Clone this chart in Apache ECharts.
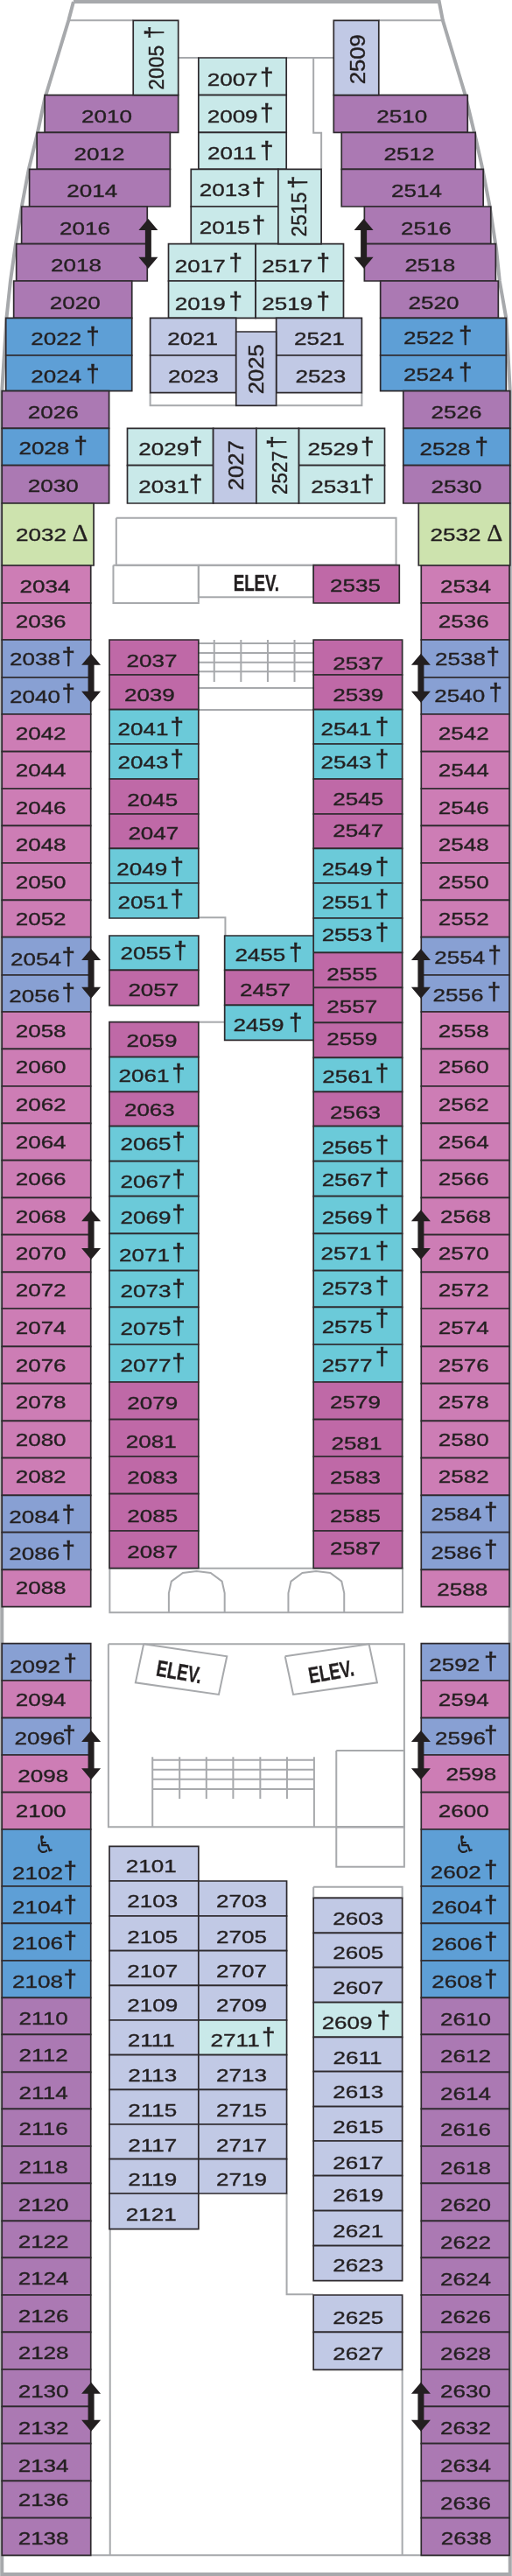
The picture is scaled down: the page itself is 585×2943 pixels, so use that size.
<!DOCTYPE html>
<html><head><meta charset="utf-8">
<style>html,body{margin:0;padding:0;background:#fff}#c{width:585px;height:2943px}</style>
<script src="https://cdn.jsdelivr.net/npm/echarts@6/dist/echarts.min.js"></script>
</head><body><div id="c"></div>
<script>
// ---------- cabin numbers ('†' / 'Δ' suffix = marked cabin) ----------
const portBow = ['2010','2012','2014','2016','2018','2020','2022†','2024†','2026','2028†','2030','2032Δ'];
const starBow = ['2510','2512','2514','2516','2518','2520','2522†','2524†','2526','2528†','2530','2532Δ'];
const portMid = ['2034','2036','2038†','2040†','2042','2044','2046','2048','2050','2052','2054†','2056†','2058','2060','2062','2064','2066','2068','2070','2072','2074','2076','2078','2080','2082','2084†','2086†','2088'];
const starMid = ['2534','2536','2538†','2540†','2542','2544','2546','2548','2550','2552','2554†','2556†','2558','2560','2562','2564','2566','2568','2570','2572','2574','2576','2578','2580','2582','2584†','2586†','2588'];
const portAft = ['2092†','2094','2096†','2098','2100','2102†','2104†','2106†','2108†','2110','2112','2114','2116','2118','2120','2122','2124','2126','2128','2130','2132','2134','2136','2138'];
const starAft = ['2592†','2594','2596†','2598','2600','2602†','2604†','2606†','2608†','2610','2612','2614','2616','2618','2620','2622','2624','2626','2628','2630','2632','2634','2636','2638'];
const innerA = ['2037','2039','2041†','2043†','2045','2047','2049†','2051†'];
const innerB = ['2055†','2057'];
const innerC = ['2059','2061†','2063','2065†','2067†','2069†','2071†','2073†','2075†','2077†','2079','2081','2083','2085','2087'];
const innerR = ['2537','2539','2541†','2543†','2545','2547','2549†','2551†','2553†','2555','2557','2559','2561†','2563','2565†','2567†','2569†','2571†','2573†','2575†','2577†','2579','2581','2583','2585','2587'];
const midHouse = ['2455†','2457','2459†'];
const foreA = ['2007†','2009†','2011†'];
const foreB = ['2013†','2015†'];
const foreC = ['2017†','2019†'];
const foreD = ['2517†','2519†'];
const foreE = ['2021','2023'];
const foreF = ['2521','2523'];
const foreG = ['2029†','2031†'];
const foreH = ['2529†','2531†'];
const aftA = ['2101','2103','2105','2107','2109','2111','2113','2115','2117','2119','2121'];
const aftB = ['2703','2705','2707','2709','2711†','2713','2715','2717','2719'];
const aftC = ['2603','2605','2607','2609†','2611','2613','2615','2617','2619','2621','2623'];
const aftD = ['2625','2627'];
const single = ['2535'];
const uprightCabins = ['2005†','2509','2515†','2025','2027','2527†'];
const elevatorLabels = ['ELEV.','ELEV.','ELEV.'];
const accessibleMark = '♿';

// ---------- fare class per cabin ----------
const portBowClass = 'PPPPPPBBPBPG', starBowClass = 'PPPPPPBBPBPG';
const portMidClass = 'KKSSKKKKKKSSKKKKKKKKKKKKKSSK', starMidClass = 'KKSSKKKKKKSSKKKKKKKKKKKKKSSK';
const portAftClass = 'SKSKKBBBBPPPPPPPPPPPPPPP', starAftClass = 'SKSKKBBBBPPPPPPPPPPPPPPP';
const innerAClass = 'MMTTMMTT', innerBClass = 'TM', innerCClass = 'MTMTTTTTTTMMMMM';
const innerRClass = 'MMTTMMTTTMMMTMTTTTTTTMMMMM';
const midHouseClass = 'TMT';
const aftBClass = 'VVVVLVVVV', aftCClass = 'VVVLVVVVVVV';
const uprightClass = 'LVLVVL';

const classColor = {P:'#ab79b3',B:'#5e9fd6',L:'#c9e9e9',V:'#c1c9e5',K:'#cd7db5',M:'#bf69a7',T:'#6bcad9',S:'#88a0d3',G:'#cde3ae'};

// ---------- layout in deck units: x 0..1568, y 0..2943 ----------
const X_MAX = 1568, Y_MAX = 2943;
const bowEdges = [108.7,151.3,193.3,236,278.7,321,363.3,406,446.7,489.3,531.7,575,646];
const midEdges = [646,689,731,774,816,858.7,901,943.3,986,1028.3,1070.7,1114,1156,1198.3,1241,1283.3,1325.7,1368.3,1410.7,1453.3,1495,1538.3,1580.7,1623.3,1665.7,1708.3,1750.7,1793.3,1835.7];
const aftEdges = [1877.7,1920,1962.7,2005,2047.7,2090,2155,2197.3,2240,2282.3,2324.3,2367.3,2409.3,2452,2494.3,2537.3,2579.3,2622,2664.3,2707,2749.3,2791.7,2834.3,2876.7,2919.3];
const innerREdges = [731,771,810.7,850,890,930,969.3,1009,1049,1088.3,1128.3,1168.3,1208.3,1247.3,1286.7,1326.7,1366.7,1409.3,1451.7,1493.3,1536,1579,1621.7,1664,1706.7,1749,1791.7];
const hall21 = [2109.3,2149,2189,2228.7,2268.3,2308,2347.7,2387.3,2427,2466.7,2506,2546.7];

const blocks = [
 {names:portBow, cls:portBowClass, x:[[137,546],[113,521],[90,521],[66,451],[50,451],[42,404],[18,404],[18,404],[6,334],[6,334],[6,334],[6,287]], y:bowEdges,
  tx:[327,304,282,260,233,230,172,172,163,135,163,126], dy:[4,5,5,5,4,5,4,5,4,3,3,2], mark:[0,0,0,0,0,0,284,284,0,247,0,245]},
 {names:starBow, cls:starBowClass, x:[[1022,1432],[1046,1456],[1046,1480],[1116,1503],[1116,1518],[1165,1526],[1165,1550],[1165,1550],[1235,1562],[1235,1562],[1235,1562],[1282,1562]], y:bowEdges,
  tx:[1231,1253,1276,1305,1317,1328,1313,1313,1398,1363,1398,1395], dy:[4,5,5,5,4,5,3,3,4,4,4,2], mark:[0,0,0,0,0,0,1425,1425,0,1475,0,1515]},
 {names:portMid, cls:portMidClass, x:[6,278], y:midEdges,
  tx:[138,125,107,107,125,125,125,125,125,125,110,105,125,125,125,125,125,125,125,125,125,125,125,125,125,105,105,125],
  dy:[4,1,2,2,2,1,2,2,2,2,5,4,2,1,1,2,1,2,1,1,2,2,1,2,1,5,4,1], mark:210},
 {names:starMid, cls:starMidClass, x:[1290,1560], y:midEdges,
  tx:[1426,1420,1410,1408,1420,1420,1420,1420,1420,1420,1408,1403,1420,1420,1420,1420,1420,1426,1420,1420,1420,1420,1420,1420,1420,1398,1398,1416],
  dy:[4,1,2,1,2,1,2,2,2,2,3,3,2,1,1,2,1,2,1,1,2,2,1,2,1,2,3,3], mark:[0,0,1510,1518,0,0,0,0,0,0,1515,1513,0,0,0,0,0,0,0,0,0,0,0,0,0,1503,1503,0]},
 {names:portAft, cls:portAftClass, x:[6,278], y:aftEdges,
  tx:[107,125,122,132,125,115,115,115,115,133,133,133,133,133,133,133,133,133,133,133,133,133,133,133],
  dy:[6,2,3,4,1,19,4,3,4,4,3,4,3,4,4,4,4,4,4,5,5,5,2,3], mark:[215,0,212,0,0,215,215,215,215]},
 {names:starAft, cls:starAftClass, x:[1290,1560], y:aftEdges,
  tx:[1392,1420,1410,1443,1420,1396,1400,1400,1400,1426,1426,1426,1426,1426,1426,1426,1426,1426,1426,1426,1426,1426,1426,1428],
  dy:[4,2,3,2,1,18,4,4,4,5,4,5,4,5,4,5,5,5,5,5,5,5,6,3], mark:1503},
 {names:innerA, cls:innerAClass, x:[335,608], y:[731,771,810.7,850,890,930,969.3,1009,1049],
  tx:[465,458,438,438,467,470,435,438], dy:[5,4,4,2,5,4,5,3], mark:542},
 {names:innerB, cls:innerBClass, x:[335,608], y:[1069,1108.3,1148.7], tx:[446,470], dy:[2,4], mark:552},
 {names:innerC, cls:innerCClass, x:[335,608], y:[1167.7,1207.7,1247.3,1286.7,1326.7,1366.7,1409.3,1451.7,1493.3,1536,1579,1621.7,1664,1706.7,1749,1791.7],
  tx:[465,441,458,446,446,446,442,446,446,446,467,463,467,467,467], dy:[3,3,2,2,5,4,5,4,5,4,4,5,4,5,4], mark:547},
 {names:innerR, cls:innerRClass, x:[960,1232], y:innerREdges,
  tx:[1097,1097,1060,1060,1097,1097,1063,1063,1063,1078,1078,1078,1065,1088,1063,1063,1063,1060,1063,1063,1063,1088,1092,1088,1088,1088],
  dy:[8,4,4,2,4,1,5,3,1,6,3,0,3,5,6,3,4,3,1,3,4,3,7,4,5,0], mark:1170, markUp:{19:10,20:10}},
 {names:midHouse, cls:midHouseClass, x:[688,960], y:[1069,1108.3,1148.3,1188.3], tx:[797,812,792], dy:[4,4,4], mark:905},
 {names:foreA, cls:'LLL', x:[608,877], y:[66,108.7,151.3,193.3], tx:[712,712,710], dy:[5,4,4], mark:817},
 {names:foreB, cls:'LL', x:[585,852], y:[193.3,236,278.7], tx:688, dy:[4,4], mark:792},
 {names:foreC, cls:'LL', x:[516,783], y:[278.7,321,363.3], tx:613, dy:[5,6], mark:722},
 {names:foreD, cls:'LL', x:[783,1052], y:[278.7,321,363.3], tx:880, dy:[5,6], mark:990},
 {names:foreE, cls:'VV', x:[460,723], y:[363.3,406,448.7], tx:[590,592], dy:[4,4]},
 {names:foreF, cls:'VV', x:[846,1108], y:[363.3,406,448.7], tx:[978,982], dy:[4,4]},
 {names:foreG, cls:'LL', x:[390,653], y:[489.3,531.7,575], tx:502, dy:[4,4], mark:600},
 {names:foreH, cls:'LL', x:[915,1178], y:[489.3,531.7,575], tx:[1020,1030], dy:[4,4], mark:1125},
 {names:single, cls:'M', x:[960,1223], y:[645.7,689], tx:1088, dy:[3]},
 {names:aftA, cls:'VVVVVVVVVVV', x:[335,608], y:hall21, tx:[463,467,467,467,467,463,467,467,467,467,463], dy:[4,4,5,5,4,4,5,5,5,5,5]},
 {names:aftB, cls:aftBClass, x:[608,878], y:hall21.slice(1,11), tx:[740,740,740,740,720,740,740,740,740], dy:[4,5,5,4,4,5,5,5,5], mark:822},
 {names:aftC, cls:aftCClass, x:[960,1232], y:[2168.3,2208.3,2247.7,2287.7,2327.3,2366.7,2406.7,2446,2485.7,2525.7,2565.7,2605.7],
  tx:[1097,1097,1097,1063,1095,1097,1097,1097,1097,1097,1097], dy:[5,4,5,5,5,5,5,6,4,5,4], mark:1175},
 {names:aftD, cls:'VV', x:[960,1232], y:[2622,2664.3,2707.3], tx:1097, dy:[6,4]},
];
// upright cabins: box, digit centre, mark centre, stretch along the text
const uprightLayout = [
 {x:[408,546],y:[23.3,108.7],tx:482,ty:77.3,mx:476,my:37,sx:1.09},
 {x:[1022,1160],y:[23.3,108.7],tx:1100,ty:67.7,sx:1.22},
 {x:[852,984],y:[193.3,278.7],tx:920,ty:245,mx:915,my:208.3,sx:1.09},
 {x:[723,846],y:[379,463.3],tx:790,ty:421.7,sx:1.22},
 {x:[653,785],y:[489.3,575],tx:727,ty:531.7,sx:1.22},
 {x:[785,915],y:[489.3,575],tx:860,ty:540,mx:852,my:505,sx:1.07},
];
const accessibleAt = [[138,2110],[1425,2110]];
const elevatorAt = [[785,668,0],[548,1911.7,-10],[1015,1911.7,10]];
const arrowsAt = [[454,250,306.7],[1114,250,306.7],[279,746.7,802.7],[1289,746.7,802.7],[279,1084,1140.7],[1289,1084,1140.7],[279,1382.3,1439],[1289,1382.3,1439],[279,1977,2033.3],[1289,1977,2033.3],[279,2721.7,2777.7],[1289,2721.7,2777.7]];
const hull = [[[225,2],[210,23.3],[137,113],[115,151.7],[88,193.3],[68,233],[48,278.7],[32,321],[20,363.3],[6,446.7],[6,2941],[1562,2941],[1562,446.7],[1550,363.3],[1530,321],[1520,285],[1500,236],[1478,193.3],[1458,160],[1425,108.7],[1356,23.3],[1345,2],[225,2]]];
const rect = (a,b,c,d)=>[[a,b],[c,b],[c,d],[a,d],[a,b]];
const walls = [
 [[212,23.3],[408,23.3]], [[1160,23.3],[1356,23.3]],
 [[546,66],[608,66]], [[877,66],[1022,66]], [[960,66],[960,151.7],[984,151.7],[984,193.3]],
 [[460,448.7],[460,463.3],[723,463.3]], [[846,463.3],[1108,463.3],[1108,448.7]],
 rect(356,591.7,1213,645.7), rect(347,645.7,608,689), rect(608,645.7,960,682.3),
 [[656,731],[656,779]],[[738,731],[738,779]],[[820,731],[820,779]],[[902,731],[902,779]],
 [[608,735],[960,735]],[[608,746],[960,746]],[[608,756.7],[960,756.7]],[[608,767.3],[960,767.3]],[[608,786],[960,786]],[[608,811],[960,811]],
 [[608,1048.3],[690,1048.3],[690,1069]], [[608,1167.7],[688,1167.7]],
 rect(336,1791.7,1233,1842.3),
 [[517,1842.3],[517,1820],[525,1806.7],[560,1797],[602,1795],[645,1797],[680,1806.7],[688,1820],[688,1842.3]],
 [[883,1842.3],[883,1820],[891,1806.7],[926,1797],[968,1795],[1011,1797],[1046,1806.7],[1054,1820],[1054,1842.3]],
 rect(332,1878.3,1238,2087.3),
 [[440,1878.3],[695,1892.3],[670,1936],[415,1922.3],[440,1878.3]],
 [[873,1892.3],[1130,1878.3],[1155,1922.3],[898,1936],[873,1892.3]],
 [[467,2007.3],[467,2087.3]],[[550,2007.3],[550,2055]],[[632,2007.3],[632,2055]],[[714,2007.3],[714,2055]],[[797,2007.3],[797,2055]],[[879,2007.3],[879,2055]],[[962,2007.3],[962,2087.3]],
 [[467,2010.7],[962,2010.7]],[[467,2021.7],[962,2021.7]],[[467,2032.7],[962,2032.7]],[[467,2044],[962,2044]],
 rect(1030,2000,1238,2087.3), rect(1030,2087.3,1238,2132.7),
 rect(960,2155.7,1232,2168.3),
 [[878,2506],[878,2621.3],[960,2621.3]],
 [[337,2546.7],[337,2919.3]], [[1232,2707.3],[1232,2919.3]], [[6,2919.3],[1562,2919.3]],
];

// ---------- build series data ----------
const pick = (v,i)=>Array.isArray(v)?v[i]:v;
const isPair = v=>Array.isArray(v[0]);
const cabins = [];
blocks.forEach(b=>{
  b.names.forEach((n,i)=>{
    const xr = isPair(b.x)?b.x[i]:b.x;
    const up = b.markUp && b.markUp[i];
    cabins.push({name:n.replace(/[†Δ]/,''), sign:(n.match(/[†Δ]/)||[''])[0], cls:b.cls[i],
      value:[xr[0],b.y[i],xr[1],b.y[i+1],pick(b.tx,i),(b.y[i]+b.y[i+1])/2+pick(b.dy,i),pick(b.mark,i)||0,up||3]});
  });
});
const uprights = uprightCabins.map((n,i)=>{const l=uprightLayout[i];
  return {name:n.replace('†',''),sign:n.includes('†')?'†':'',cls:uprightClass[i],sx:l.sx,value:[l.x[0],l.y[0],l.x[1],l.y[1],l.tx,l.ty,l.mx||0,l.my||0]};});

const INK='#231f20', EDGE='#2e2a2e', WALL='#a7a9ac';
const BASE = {fontFamily:'"Liberation Sans"',fontSize:21,fill:INK,stroke:INK,lineWidth:0.35,align:'center',verticalAlign:'middle'};
const DAG = {...BASE,text:'†',fontSize:27,lineWidth:0.6};
const polySeries=(data,width)=>({type:'custom',silent:true,animation:false,clip:false,z:1,
  coordinateSystem:'cartesian2d',data:data.map((_,i)=>[i]),
  renderItem:(p,api)=>({type:'polyline',shape:{points:data[p.dataIndex].map(q=>api.coord(q))},style:{stroke:WALL,lineWidth:width,fill:null}})});
const chart = echarts.init(document.getElementById('c'),null,{renderer:'canvas'});
chart.setOption({
  animation:false,
  grid:{left:0,right:0,top:0,bottom:0},
  xAxis:{type:'value',min:0,max:X_MAX,show:false},
  yAxis:{type:'value',min:0,max:Y_MAX,inverse:true,show:false},
  series:[
    polySeries(hull,4),
    polySeries(walls,2),
    {type:'custom',silent:true,animation:false,clip:false,z:2,coordinateSystem:'cartesian2d',data:cabins.map(c=>c.value),
     renderItem:(p,api)=>{
       const c=cabins[p.dataIndex], a=api.coord([api.value(0),api.value(1)]), b=api.coord([api.value(2),api.value(3)]);
       const t=api.coord([api.value(4),api.value(5)]);
       const kids=[{type:'rect',shape:{x:a[0],y:a[1],width:b[0]-a[0],height:b[1]-a[1]},style:{fill:classColor[c.cls],stroke:EDGE,lineWidth:1.7}},
         {type:'text',x:t[0],y:t[1],scaleX:1.24,style:{...BASE,text:c.name}}];
       if(c.sign==='†'){const m=api.coord([api.value(6),api.value(5)]);
         kids.push({type:'text',x:m[0],y:m[1]-api.value(7),style:DAG});}
       if(c.sign==='Δ'){const m=api.coord([api.value(6),api.value(5)]);
         kids.push({type:'text',x:m[0],y:m[1]-2,style:{...BASE,text:'Δ',fontSize:28,fontFamily:'"Liberation Serif"'}});}
       return {type:'group',children:kids};
     }},
    {type:'custom',silent:true,animation:false,clip:false,z:2,coordinateSystem:'cartesian2d',data:uprights.map(c=>c.value),
     renderItem:(p,api)=>{
       const c=uprights[p.dataIndex], a=api.coord([api.value(0),api.value(1)]), b=api.coord([api.value(2),api.value(3)]);
       const t=api.coord([api.value(4),api.value(5)]);
       const kids=[{type:'rect',shape:{x:a[0],y:a[1],width:b[0]-a[0],height:b[1]-a[1]},style:{fill:classColor[c.cls],stroke:EDGE,lineWidth:1.7}},
         {type:'text',x:t[0],y:t[1],rotation:Math.PI/2,scaleX:c.sx,scaleY:1.16,style:{...BASE,text:c.name}}];
       if(c.sign){const m=api.coord([api.value(6),api.value(7)]);
         kids.push({type:'text',x:m[0],y:m[1],rotation:Math.PI/2,style:DAG});}
       return {type:'group',children:kids};
     }},
    {type:'custom',silent:true,animation:false,clip:false,z:3,coordinateSystem:'cartesian2d',data:accessibleAt,
     renderItem:(p,api)=>{const m=api.coord([api.value(0),api.value(1)]);
       return {type:'text',x:m[0],y:m[1],style:{...BASE,text:accessibleMark,fontSize:28,lineWidth:0,fontFamily:'"DejaVu Sans"'}};}},
    {type:'custom',silent:true,animation:false,clip:false,z:3,coordinateSystem:'cartesian2d',data:elevatorAt,
     renderItem:(p,api)=>{const m=api.coord([api.value(0),api.value(1)]);
       return {type:'text',x:m[0],y:m[1],rotation:api.value(2)*Math.PI/180,scaleX:0.72,style:{...BASE,text:elevatorLabels[p.dataIndex],fontSize:26,fontWeight:'bold'}};}},
    {type:'custom',silent:true,animation:false,clip:false,z:4,coordinateSystem:'cartesian2d',data:arrowsAt,
     renderItem:(p,api)=>{
       const top=api.coord([api.value(0),api.value(1)]), bot=api.coord([api.value(0),api.value(2)]);
       const x=top[0], hw=11, hh=13, sw=3.5;
       return {type:'polygon',shape:{points:[[x,top[1]],[x+hw,top[1]+hh],[x+sw,top[1]+hh],[x+sw,bot[1]-hh],[x+hw,bot[1]-hh],[x,bot[1]],[x-hw,bot[1]-hh],[x-sw,bot[1]-hh],[x-sw,top[1]+hh],[x-hw,top[1]+hh]]},style:{fill:INK}};
     }},
  ]
});
</script></body></html>
